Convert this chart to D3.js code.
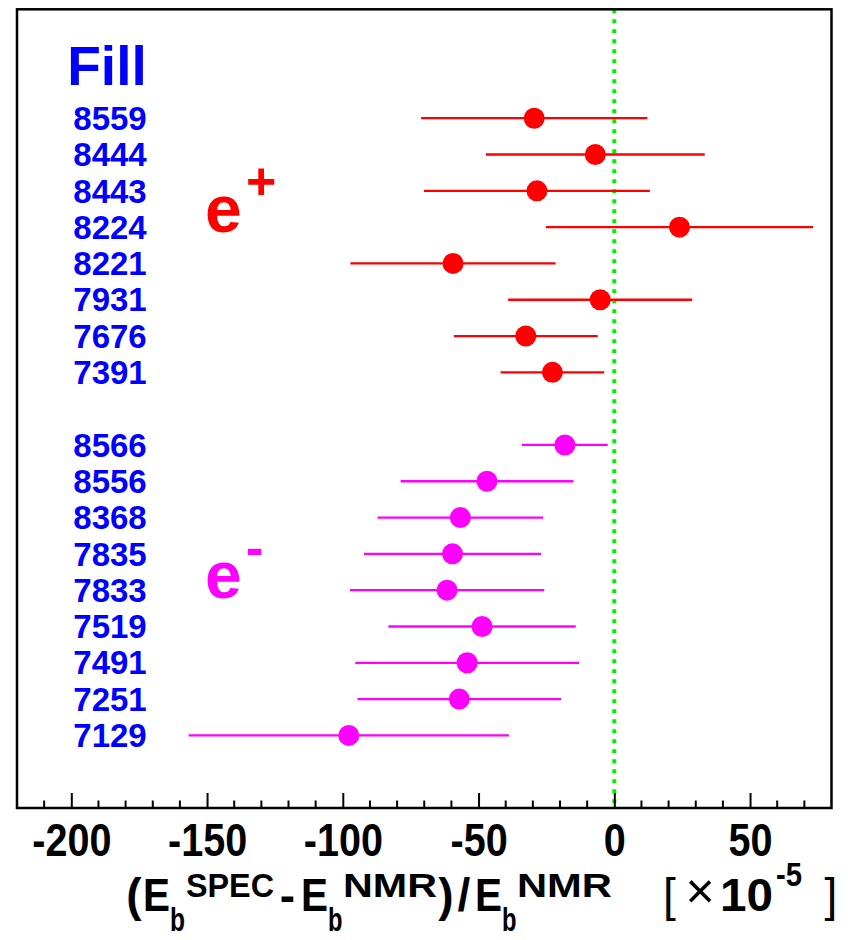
<!DOCTYPE html>
<html>
<head>
<meta charset="utf-8">
<script src="https://cdn.jsdelivr.net/npm/d3@7"></script>
<style>
  html, body { margin: 0; padding: 0; background: #fff; }
  svg { display: block; }
  text { font-family: "Liberation Sans", Arial, Helvetica, sans-serif; }
</style>
</head>
<body>
<svg id="chart" width="848" height="940"></svg>
<script>
// ---- data ----
const posFills  = ["8559", "8444", "8443", "8224", "8221", "7931", "7676", "7391"];
const posValues = [-29.5, -7.0, -28.5, 24.0, -59.4, -5.2, -32.6, -22.8];
const posErrors = [41.7, 40.3, 41.6, 49.2, 37.8, 33.9, 26.5, 19.1];

const negFills  = ["8566", "8556", "8368", "7835", "7833", "7519", "7491", "7251", "7129"];
const negValues = [-18.2, -46.9, -56.7, -59.6, -61.6, -48.7, -54.2, -57.1, -97.8];
const negErrors = [15.8, 31.8, 30.5, 32.6, 35.8, 34.5, 41.2, 37.5, 59.0];

const majorTicks = [-200, -150, -100, -50, 0, 50];
const xDomain = [-220, 80];
const yDomain = [0, 22];
const referenceValue = 0;

// ---- layout ----
const svg = d3.select("#chart");
const frame = { left: 17, right: 831.5, top: 9.3, bottom: 808 };

const x = d3.scaleLinear().domain(xDomain).range([frame.left, frame.right]);
const y = d3.scaleLinear().domain(yDomain).range([frame.bottom, frame.top]);

// row positions: e+ rows from the top, a gap, then e- rows
const posRows = posFills.map((f, i) => ({ fill: f, v: posValues[i], e: posErrors[i], row: 19 - i, color: "#ff0000" }));
const negRows = negFills.map((f, i) => ({ fill: f, v: negValues[i], e: negErrors[i], row: 10 - i, color: "#ff00ff" }));
const rows = posRows.concat(negRows);

// reference line
svg.append("line")
  .attr("x1", x(referenceValue)).attr("x2", x(referenceValue))
  .attr("y1", frame.top).attr("y2", frame.bottom)
  .attr("stroke", "#00ee00").attr("stroke-width", 4)
  .attr("stroke-dasharray", "4,6");

// error bars
svg.append("g").selectAll("line").data(rows).join("line")
  .attr("x1", d => x(d.v - d.e)).attr("x2", d => x(d.v + d.e))
  .attr("y1", d => y(d.row)).attr("y2", d => y(d.row))
  .attr("stroke", d => d.color).attr("stroke-width", 2.3);

// points
svg.append("g").selectAll("circle").data(rows).join("circle")
  .attr("cx", d => x(d.v)).attr("cy", d => y(d.row))
  .attr("r", 10.5).attr("fill", d => d.color);

// fill labels
svg.append("g").selectAll("text").data(rows).join("text")
  .attr("x", 110).attr("y", d => y(d.row))
  .attr("dy", "0.355em")
  .attr("text-anchor", "middle")
  .attr("font-size", 33).attr("font-weight", "bold")
  .attr("fill", "#0000ff")
  .text(d => d.fill);

svg.append("text")
  .attr("x", 107).attr("y", 85)
  .attr("text-anchor", "middle")
  .attr("font-size", 55).attr("font-weight", "bold")
  .attr("fill", "#0000ff")
  .text("Fill");

// e+ / e- labels
function particle(label, sup, color, baseY) {
  const t = svg.append("text").attr("fill", color).attr("font-weight", "bold");
  t.append("tspan").attr("x", 205).attr("y", baseY).attr("font-size", 66).text(label);
  t.append("tspan").attr("x", 246).attr("y", baseY - 33).attr("font-size", 52).text(sup);
}
particle("e", "+", "#ff0000", 232);
particle("e", "-", "#ff00ff", 598);

// x axis with inward ticks
const minorTicks = d3.range(xDomain[0] + 10, xDomain[1], 10).filter(v => !majorTicks.includes(v));
const axisG = svg.append("g").attr("transform", `translate(0,${frame.bottom})`);
axisG.call(d3.axisBottom(x).tickValues(majorTicks).tickSize(-15).tickSizeOuter(0).tickPadding(0).tickFormat(d3.format("d")));
axisG.select(".domain").remove();
axisG.selectAll(".tick line").attr("stroke", "#000").attr("stroke-width", 2);
axisG.selectAll(".tick text")
  .attr("font-size", 46).attr("font-weight", "bold").attr("fill", "#000")
  .attr("font-family", "'Liberation Sans', Arial, sans-serif")
  .attr("y", 48).attr("dy", 0)
  .attr("transform", "scale(0.86,1)")
  .text(d => d < 0 ? "-" + Math.abs(d) : String(d));
axisG.append("g").selectAll("line").data(minorTicks).join("line")
  .attr("x1", d => x(d)).attr("x2", d => x(d))
  .attr("y1", 0).attr("y2", -7.5)
  .attr("stroke", "#000").attr("stroke-width", 2);

// frame
svg.append("rect")
  .attr("x", frame.left).attr("y", frame.top)
  .attr("width", frame.right - frame.left).attr("height", frame.bottom - frame.top)
  .attr("fill", "none").attr("stroke", "#000").attr("stroke-width", 2.5);

// x axis title: ( E_b^SPEC - E_b^NMR ) / E_b^NMR  [ x 10^-5 ]
const titleBase = 911, supBase = 897, subBase = 931, big = 46, small = 34;
const titleParts = [
  // text, x, baseline, size, weight, anchor, textLength
  ["(",    134,   titleBase, big,   "bold",   "middle", null],
  ["E",    143,   titleBase, big,   "bold",   "start",  27],
  ["b",    170,   subBase,   small, "bold",   "start",  15],
  ["SPEC", 186,   supBase,   small, "bold",   "start",  88],
  ["-",    287.5, titleBase, big,   "bold",   "middle", null],
  ["E",    301,   titleBase, big,   "bold",   "start",  27],
  ["b",    328,   subBase,   small, "bold",   "start",  14.5],
  ["NMR",  343,   supBase,   small, "bold",   "start",  94],
  [")",    446,   titleBase, big,   "bold",   "middle", null],
  ["/",    464,   titleBase, big,   "bold",   "middle", null],
  ["E",    475,   titleBase, big,   "bold",   "start",  27],
  ["b",    502,   subBase,   small, "bold",   "start",  14.5],
  ["NMR",  517,   supBase,   small, "bold",   "start",  95],
  ["[",    669.5, titleBase, big,   "normal", "middle", null],
  ["\u00d7", 700, titleBase - 3, 50, "normal", "middle", null],
  ["10",   720,   titleBase, big,   "bold",   "start",  53],
  ["-5",   776,   886,       34,    "bold",   "start",  26],
  ["]",    831,   titleBase, big,   "normal", "middle", null]
];
const titleG = svg.append("g").attr("fill", "#000");
titleParts.forEach(p => {
  const t = titleG.append("text")
    .attr("x", p[1]).attr("y", p[2])
    .attr("font-size", p[3]).attr("font-weight", p[4])
    .attr("text-anchor", p[5])
    .text(p[0]);
  if (p[6]) t.attr("textLength", p[6]).attr("lengthAdjust", "spacingAndGlyphs");
});
</script>
</body>
</html>
